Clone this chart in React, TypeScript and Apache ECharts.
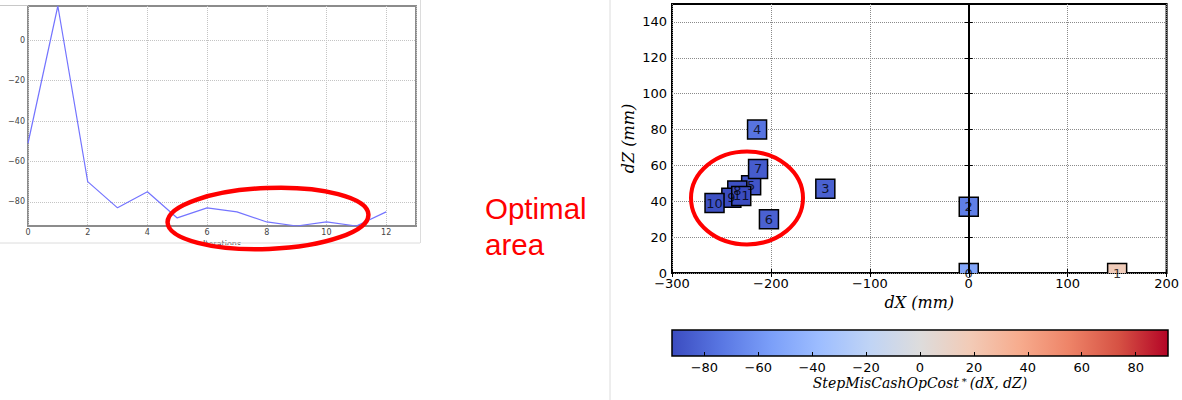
import React, { useEffect, useRef } from 'react';
import * as echarts from 'echarts';

// ---------- data ----------
const ITERATIONS = [0, 1, 2, 3, 4, 5, 6, 7, 8, 9, 10, 11, 12];
const COST = [-51, 17, -70, -83, -75, -88, -83, -85, -90, -92, -90, -92, -85];

const STEP_LABELS = ['0', '1', '2', '3', '4', '5', '6', '7', '8', '9', '10', '11'];
const STEP_DX = [0, 150, 0, -145, -214, -220, -202, -213, -234, -240, -257, -230];
const STEP_DZ = [0, 0, 37, 47, 80, 49, 30, 58, 46, 42, 39, 43];
const STEP_COST = [-51, 17, -70, -83, -75, -88, -83, -85, -90, -92, -90, -92];

const LEFT_X_TICKS = [0, 2, 4, 6, 8, 10, 12];
const LEFT_Y_TICKS = [-80, -60, -40, -20, 0];
const RIGHT_Y_TICKS = [0, 20, 40, 60, 80, 100, 120, 140];
const CBAR_TICKS = [-80, -60, -40, -20, 0, 20, 40, 60, 80];
const CBAR_RANGE = 92;

const COOLWARM = [
  '#3b4cc0', '#5977e3', '#7b9ff9', '#9ebeff', '#c0d4f5', '#dddcdc',
  '#f2cbb7', '#f7ac8e', '#ee8468', '#d65244', '#b40426',
];

const minus = (v: number | string) => String(v).replace('-', '\u2212');

export default function App() {
  const ref = useRef<HTMLDivElement>(null);

  useEffect(() => {
    if (!ref.current) return;
    const chart = echarts.init(ref.current, null, { renderer: 'svg' });

    const sans = 'DejaVu Sans';
    const serif = 'DejaVu Serif';

    const lineData = ITERATIONS.map((x, i) => [x, COST[i]]);
    const stepData = STEP_DX.map((x, i) => [x, STEP_DZ[i], STEP_COST[i], STEP_LABELS[i]]);

    const option: any = {
      animation: false,
      backgroundColor: '#fff',
      grid: [
        { left: 28, top: 6, width: 388, height: 220, show: true, borderColor: '#8c8c8c', borderWidth: 2, backgroundColor: 'transparent' },
        { left: 672, top: 4, width: 495, height: 269, show: true, borderColor: '#000', borderWidth: 2, backgroundColor: 'transparent' },
        { left: 672, top: 330, width: 496, height: 26, show: false },
      ],
      xAxis: [
        {
          gridIndex: 0, type: 'value', min: 0, max: 13, interval: 2,
          axisLine: { show: false }, axisTick: { show: false },
          axisLabel: { margin: 2, fontSize: 8, color: '#444', fontFamily: sans, formatter: (v: number) => (LEFT_X_TICKS.includes(v) ? minus(v) : '') },
          splitLine: { show: true, lineStyle: { type: 'dotted', color: '#c4c4c4', width: 1 } },
          name: 'Iterations', nameLocation: 'middle', nameGap: 13,
          nameTextStyle: { fontSize: 8, color: '#444', fontFamily: sans },
        },
        {
          gridIndex: 1, type: 'value', min: -300, max: 200, interval: 100,
          axisLine: { show: false },
          axisTick: { show: true, inside: true, length: 4, lineStyle: { color: '#000' } },
          axisLabel: { margin: 4, fontSize: 13, color: '#000', fontFamily: sans, formatter: (v: number) => minus(v) },
          splitLine: { show: true, lineStyle: { type: 'dotted', color: '#8a8a8a', width: 1 } },
          name: 'dX (mm)', nameLocation: 'middle', nameGap: 21,
          nameTextStyle: { fontSize: 16, color: '#000', fontFamily: serif, fontStyle: 'italic' },
        },
        {
          gridIndex: 1, type: 'value', min: -300, max: 200, interval: 100, position: 'top',
          axisLine: { show: false },
          axisTick: { show: true, inside: true, length: 4, lineStyle: { color: '#000' } },
          axisLabel: { show: false }, splitLine: { show: false },
        },
        {
          gridIndex: 2, type: 'value', min: -CBAR_RANGE, max: CBAR_RANGE, z: 10,
          axisLine: { show: false },
          axisTick: { show: true, inside: true, length: 4, customValues: CBAR_TICKS, lineStyle: { color: '#000' } },
          axisLabel: { margin: 5, fontSize: 13, color: '#000', fontFamily: sans, customValues: CBAR_TICKS, formatter: (v: number) => minus(v) },
          splitLine: { show: false },
          name: 'StepMisCashOpCost{sup|*}(dX, dZ)', nameLocation: 'middle', nameGap: 20,
          nameTextStyle: {
            fontSize: 14, color: '#000', fontFamily: serif, fontStyle: 'italic',
            rich: { sup: { fontSize: 10, fontFamily: serif, color: '#000', verticalAlign: 'top', padding: [0, 3, 0, 3] } },
          },
        },
      ],
      yAxis: [
        {
          gridIndex: 0, type: 'value', min: -92, max: 17,
          axisLine: { show: false },
          axisTick: { show: false, customValues: LEFT_Y_TICKS },
          axisLabel: { margin: 3, fontSize: 8, color: '#444', fontFamily: sans, customValues: LEFT_Y_TICKS, formatter: (v: number) => minus(v) },
          splitLine: { show: true, lineStyle: { type: 'dotted', color: '#c4c4c4', width: 1 } },
        },
        {
          gridIndex: 1, type: 'value', min: 0, max: 150,
          axisLine: { show: false },
          axisTick: { show: true, inside: true, length: 4, customValues: RIGHT_Y_TICKS, lineStyle: { color: '#000' } },
          axisLabel: { margin: 5, fontSize: 13, color: '#000', fontFamily: sans, customValues: RIGHT_Y_TICKS },
          splitLine: { show: true, lineStyle: { type: 'dotted', color: '#8a8a8a', width: 1 } },
          name: 'dZ (mm)', nameLocation: 'middle', nameGap: 36, nameRotate: 90,
          nameTextStyle: { fontSize: 16, color: '#000', fontFamily: serif, fontStyle: 'italic' },
        },
        {
          gridIndex: 1, type: 'value', min: 0, max: 150, position: 'right',
          axisLine: { show: false },
          axisTick: { show: true, inside: true, length: 4, customValues: RIGHT_Y_TICKS, lineStyle: { color: '#000' } },
          axisLabel: { show: false }, splitLine: { show: false },
        },
        { gridIndex: 2, type: 'value', min: 0, max: 1, show: false },
      ],
      visualMap: {
        type: 'continuous', show: false, seriesIndex: 1, dimension: 2,
        min: -CBAR_RANGE, max: CBAR_RANGE, inRange: { color: COOLWARM },
      },
      series: [
        {
          type: 'line', xAxisIndex: 0, yAxisIndex: 0, data: lineData,
          showSymbol: false, symbol: 'none',
          lineStyle: { color: '#7474ff', width: 1.2 },
        },
        {
          type: 'custom', xAxisIndex: 1, yAxisIndex: 1, data: stepData, clip: true,
          encode: { x: 0, y: 1 },
          renderItem: (params: any, api: any) => {
            const p = api.coord([api.value(0), api.value(1)]);
            const s = 19;
            return {
              type: 'rect',
              shape: { x: p[0] - s / 2, y: p[1] - s / 2, width: s, height: s },
              style: { fill: api.visual('color'), stroke: '#000', lineWidth: 1.5 },
            };
          },
          markLine: {
            silent: true, symbol: 'none', label: { show: false },
            lineStyle: { color: '#000', width: 2, type: 'solid' },
            data: [{ xAxis: 0 }],
          },
        },
        {
          type: 'scatter', xAxisIndex: 1, yAxisIndex: 1, z: 5,
          data: stepData.map((d) => ({ value: [d[0], d[1]], name: d[3] })),
          symbolSize: 1, itemStyle: { color: 'rgba(0,0,0,0)' },
          label: { show: true, position: 'inside', formatter: '{b}', fontSize: 13, color: '#000', fontFamily: sans },
        },
        {
          type: 'custom', xAxisIndex: 3, yAxisIndex: 3, data: [[-CBAR_RANGE, CBAR_RANGE]],
          renderItem: (params: any, api: any) => {
            const p0 = api.coord([api.value(0), 0]);
            const p1 = api.coord([api.value(1), 1]);
            return {
              type: 'rect',
              shape: { x: p0[0], y: p1[1], width: p1[0] - p0[0], height: p0[1] - p1[1] },
              style: {
                fill: new echarts.graphic.LinearGradient(0, 0, 1, 0,
                  COOLWARM.map((c, i) => ({ offset: i / (COOLWARM.length - 1), color: c }))),
                stroke: '#000', lineWidth: 1.5,
              },
            };
          },
        },
      ],
      graphic: [
        // mask bottom of the pasted left screenshot
        { type: 'rect', z: 50, shape: { x: 0, y: 245, width: 420, height: 30 }, style: { fill: '#fff' } },
        // screenshot borders and slide separator
        { type: 'line', z: 60, shape: { x1: 0, y1: 243, x2: 420, y2: 243 }, style: { stroke: '#dcdcdc', lineWidth: 1 } },
        { type: 'line', z: 60, shape: { x1: 420.5, y1: 0, x2: 420.5, y2: 243 }, style: { stroke: '#dcdcdc', lineWidth: 1 } },
        { type: 'line', z: 60, shape: { x1: 0, y1: 5.5, x2: 28, y2: 5.5 }, style: { stroke: '#c8c8c8', lineWidth: 1 } },
        { type: 'line', z: 60, shape: { x1: 610, y1: 0, x2: 610, y2: 400 }, style: { stroke: '#dcdcdc', lineWidth: 1 } },
        // annotations
        {
          type: 'ellipse', z: 100, x: 268, y: 218.5, rotation: 0.04,
          shape: { cx: 0, cy: 0, rx: 100.5, ry: 30.5 },
          style: { fill: 'none', stroke: '#ff0000', lineWidth: 4.5 },
        },
        {
          type: 'ellipse', z: 100, x: 747, y: 198,
          shape: { cx: 0, cy: 0, rx: 56, ry: 46.5 },
          style: { fill: 'none', stroke: '#ff0000', lineWidth: 4 },
        },
        {
          type: 'text', z: 100, x: 485, y: 208.5,
          style: { text: 'Optimal', fill: '#ff0000', font: '29.5px "Liberation Sans", Arial, sans-serif', verticalAlign: 'middle', align: 'left' },
        },
        {
          type: 'text', z: 100, x: 485, y: 244,
          style: { text: 'area', fill: '#ff0000', font: '29.5px "Liberation Sans", Arial, sans-serif', verticalAlign: 'middle', align: 'left' },
        },
      ],
    };

    chart.setOption(option);
    return () => chart.dispose();
  }, []);

  return (
    <div
      ref={ref}
      style={{ position: 'fixed', left: 0, top: 0, width: 1182, height: 400, background: '#fff' }}
    />
  );
}
